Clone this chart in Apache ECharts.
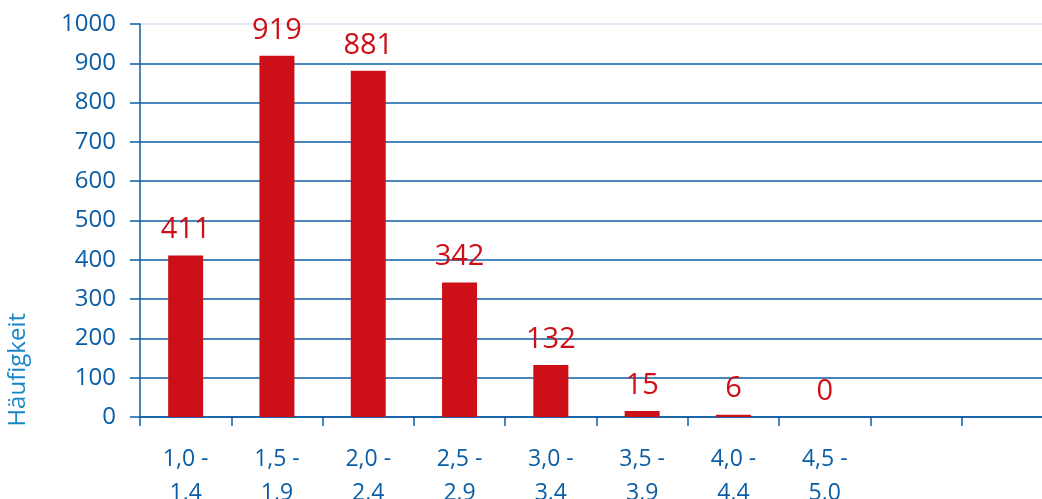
<!DOCTYPE html>
<html>
<head>
<meta charset="utf-8">
<script src="https://cdn.jsdelivr.net/npm/echarts@6/dist/echarts.min.js"></script>
<style>
  html, body { margin: 0; padding: 0; background: #ffffff; }
  #chart { width: 1042px; height: 499px; }
</style>
</head>
<body>
<div id="chart"></div>
<script>
// Frequency of grade ranges
const categories = ['1,0 -\n1,4', '1,5 -\n1,9', '2,0 -\n2,4', '2,5 -\n2,9', '3,0 -\n3,4',
                    '3,5 -\n3,9', '4,0 -\n4,4', '4,5 -\n5,0', '', ''];
const counts = [411, 919, 881, 342, 132, 15, 6, 0, '-', '-'];
const yTicks = [0, 100, 200, 300, 400, 500, 600, 700, 800, 900, 1000];
const yAxisTitle = 'Häufigkeit';

const BLUE = '#0b5ea6';
const RED = '#cd1018';
const FONT = '"Open Sans", "Noto Sans", sans-serif';

// Horizontal grid lines: dark, except the pale top line
const gridColors = yTicks.map((v, i) => i === yTicks.length - 1 ? '#d6e4f2' : BLUE);

const chart = echarts.init(document.getElementById('chart'), null, { renderer: 'canvas' });
chart.setOption({
  animation: false,
  backgroundColor: '#ffffff',
  // plot area runs past the right edge of the canvas
  grid: { left: 140, top: 24, width: 913, height: 393, containLabel: false, outerBoundsMode: 'none' },
  xAxis: {
    type: 'category',
    data: categories,
    boundaryGap: true,
    axisLine: { show: true, lineStyle: { color: BLUE, width: 1.5 } },
    axisTick: { show: true, inside: false, length: 9, alignWithLabel: false,
                lineStyle: { color: BLUE, width: 1.5 } },
    axisLabel: { color: BLUE, fontSize: 23, fontFamily: FONT, lineHeight: 34,
                 margin: 25, interval: 0 },
    splitLine: { show: false }
  },
  yAxis: {
    type: 'value',
    min: yTicks[0],
    max: yTicks[yTicks.length - 1],
    interval: yTicks[1] - yTicks[0],
    axisLine: { show: true, lineStyle: { color: BLUE, width: 1.5 } },
    axisTick: { show: true, inside: false, length: 10, lineStyle: { color: BLUE, width: 1.5 } },
    axisLabel: { color: BLUE, fontSize: 24, fontFamily: FONT, margin: 24,
                 formatter: v => String(v) },
    splitLine: { show: true, lineStyle: { color: gridColors, width: 1.5 } }
  },
  graphic: [{
    type: 'text',
    left: 6,
    top: 313,
    rotation: Math.PI / 2,
    style: { text: yAxisTitle, fill: '#1a86c8', font: '24px ' + FONT }
  }],
  series: [{
    type: 'bar',
    data: counts,
    barWidth: 35,
    itemStyle: { color: RED },
    label: {
      show: true,
      position: 'top',
      distance: 11,
      color: RED,
      fontSize: 29,
      fontFamily: FONT
    }
  }]
});
</script>
</body>
</html>
